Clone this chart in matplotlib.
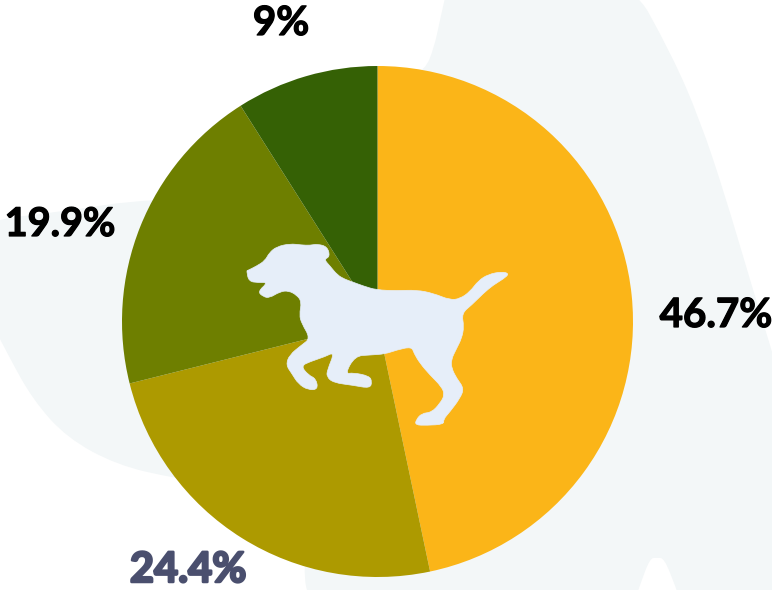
# -*- coding:utf-8 -*-
import matplotlib
matplotlib.use('Agg')
import matplotlib.pyplot as plt
import matplotlib.patheffects as pe
from matplotlib.patches import PathPatch
from matplotlib.path import Path

W, H = 772, 590

# slices, clockwise from 12 o'clock
values = [46.7, 24.4, 19.9, 9]
labels = ['46.7%', '24.4%', '19.9%', '9%']
colors = ['#fbb518', '#ad9a00', '#6e7f00', '#356105']
label_colors = ['#000000', '#4a4f6e', '#000000', '#000000']
label_sizes = [29, 30, 28.5, 29]
label_strokes = [0.9, 1.8, 0.9, 0.9]
label_xy = [(716, 327), (188, 582), (60, 236), (281, 35)]

# background shapes, in pixels
blob_right = [(449, -20), (625, -30), (672, 55), (700, 120), (725, 195), (750, 280),
              (790, 410), (800, 620), (687, 620), (675, 585), (664, 558), (657, 558),
              (650, 558), (640, 585), (628, 620), (318, 620), (296, 560), (377, 100),
              (378, 85), (405, 78), (425, 70), (434, 48), (440, 20)]
blob_left = [(-30, 222), (60, 212), (150, 198), (300, 200), (300, 500), (173, 478),
             (117, 465), (67, 438), (33, 400), (8, 355), (-20, 300)]

# dog outline, in pixels of the 3x crop at (230, 230)
dog_zoom = [(52, 122), (80, 108), (105, 92), (118, 68), (140, 50), (180, 41), (215, 45),
            (240, 46), (262, 42), (292, 50), (300, 80), (282, 88), (300, 108), (322, 135),
            (345, 148), (368, 156), (400, 168), (440, 180), (500, 182), (560, 180),
            (610, 190), (660, 210), (690, 206), (720, 185), (745, 152), (775, 133),
            (815, 125), (838, 131), (820, 147), (790, 165), (760, 190), (725, 225),
            (695, 250), (702, 290), (695, 325), (680, 355), (663, 390), (665, 415),
            (680, 445), (702, 475), (690, 505), (660, 545), (640, 568), (642, 583),
            (590, 586), (556, 585), (558, 570), (575, 550), (605, 547), (630, 520),
            (644, 495), (635, 470), (600, 435), (570, 400), (552, 370), (545, 350),
            (500, 360), (465, 372), (420, 375), (375, 378), (345, 432), (370, 428),
            (418, 438), (426, 455), (420, 475), (370, 466), (310, 458), (290, 440),
            (292, 420), (314, 366), (285, 380), (240, 395), (213, 408), (235, 435),
            (258, 446), (264, 478), (235, 480), (205, 462), (185, 430), (168, 405),
            (178, 375), (215, 345), (241, 325), (215, 280), (208, 255), (215, 215),
            (200, 195), (175, 182), (150, 185), (118, 204), (100, 200), (83, 185),
            (114, 157), (85, 158), (56, 154), (50, 122)]
dog = [(230 + x / 3, 230 + y / 3) for x, y in dog_zoom]


def smooth(points):
    # closed outline: quadratic curves through the midpoints
    n = len(points)
    mid = lambda a, b: ((a[0] + b[0]) / 2, (a[1] + b[1]) / 2)
    verts = [mid(points[-1], points[0])]
    codes = [Path.MOVETO]
    for i in range(n):
        verts += [points[i], mid(points[i], points[(i + 1) % n])]
        codes += [Path.CURVE3, Path.CURVE3]
    return Path(verts, codes)


fig = plt.figure(figsize=(W / 100, H / 100), dpi=100, facecolor='white')

# pixel axes behind the pie
bg = fig.add_axes([0, 0, 1, 1], zorder=0)
bg.set_xlim(0, W)
bg.set_ylim(H, 0)
bg.axis('off')
bg.add_patch(PathPatch(smooth(blob_right), fc='#f3f7f8', ec='none'))
bg.add_patch(PathPatch(smooth(blob_left), fc='#f3f7f8', ec='none'))

# pie: centre (377.5, 321.5), radius 255.5
cx, cy, r = 377.5, 321.5, 255.5
ax = fig.add_axes([(cx - r) / W, 1 - (cy + r) / H, 2 * r / W, 2 * r / H], zorder=1)
ax.pie(values, colors=colors, startangle=90, counterclock=False, radius=1,
       wedgeprops=dict(linewidth=0))
ax.set_xlim(-1, 1)
ax.set_ylim(-1, 1)

# pixel axes in front of the pie
top = fig.add_axes([0, 0, 1, 1], zorder=2)
top.set_xlim(0, W)
top.set_ylim(H, 0)
top.axis('off')
top.patch.set_alpha(0)
top.add_patch(PathPatch(smooth(dog), fc='#e6eef9', ec='#e6eef9', lw=0.5))

for lab, col, size, sw, (x, y) in zip(labels, label_colors, label_sizes, label_strokes, label_xy):
    top.text(x, y, lab, color=col, ha='center', va='baseline', fontsize=size,
             family='Lato', fontweight='bold',
             path_effects=[pe.withStroke(linewidth=sw, foreground=col)])

fig.savefig('out.png', dpi=100)
